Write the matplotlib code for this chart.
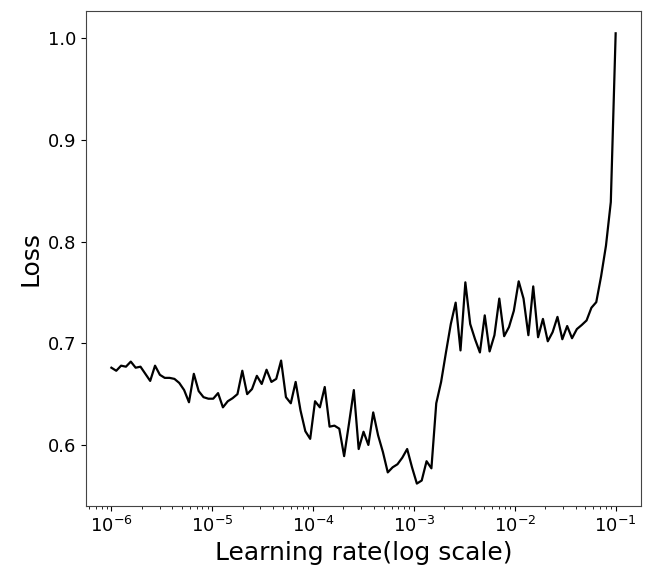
import matplotlib
matplotlib.use("Agg")
import matplotlib.pyplot as plt
import numpy as np

# loss, one value per step of the LR range test
loss = [
    0.676, 0.673, 0.678, 0.677, 0.682, 0.676, 0.677, 0.670, 0.663, 0.678,
    0.669, 0.666, 0.666, 0.665, 0.661, 0.654, 0.642, 0.670, 0.653, 0.647,
    0.6455, 0.6455, 0.651, 0.637, 0.643, 0.646, 0.650, 0.673, 0.650, 0.655,
    0.668, 0.660, 0.674, 0.662, 0.665, 0.683, 0.647, 0.641, 0.662, 0.634,
    0.6135, 0.606, 0.643, 0.637, 0.657, 0.618, 0.619, 0.616, 0.589, 0.621,
    0.654, 0.596, 0.613, 0.600, 0.632, 0.6095, 0.593, 0.573, 0.578, 0.581,
    0.5875, 0.596, 0.578, 0.562, 0.565, 0.584, 0.577, 0.641, 0.662, 0.691,
    0.719, 0.740, 0.693, 0.760, 0.719, 0.704, 0.691, 0.7275, 0.692, 0.708,
    0.744, 0.707, 0.716, 0.732, 0.761, 0.744, 0.708, 0.756, 0.706, 0.724,
    0.702, 0.711, 0.726, 0.704, 0.717, 0.705, 0.714, 0.718, 0.7225, 0.735,
    0.7405, 0.766, 0.796, 0.839, 1.005,
]
# geometric learning-rate sweep, 1e-6 .. 1e-1
lr = np.logspace(-6, -1, len(loss))

fig = plt.figure(figsize=(6.48, 5.68), dpi=100)
ax = fig.add_axes([0.133, 0.109, 0.856, 0.872])
ax.plot(lr, loss, color="black", linewidth=1.6)
ax.set_xscale("log")
ax.set_yticks([0.6, 0.7, 0.8, 0.9, 1.0])
ax.tick_params(labelsize=13)
ax.set_xlabel("Learning rate(log scale)", fontsize=18)
ax.set_ylabel("Loss", fontsize=18)
for sp in ax.spines.values():
    sp.set_color("#444444")

fig.savefig("out.png", dpi=100)
